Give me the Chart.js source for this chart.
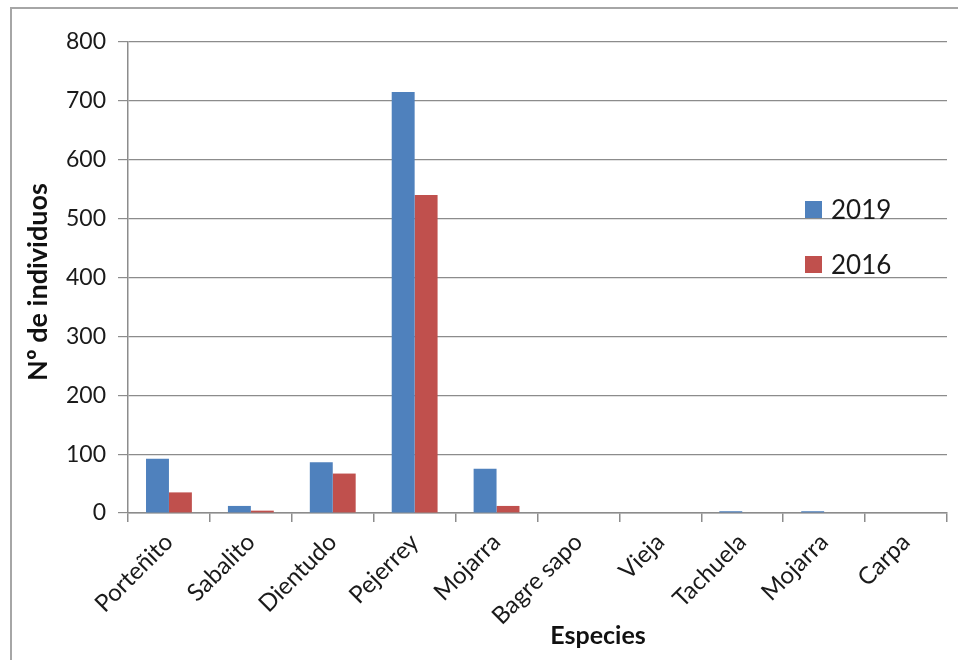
<!DOCTYPE html>
<html>
<head>
<meta charset="utf-8">
<script src="https://cdn.jsdelivr.net/npm/chart.js@4.4.0/dist/chart.umd.min.js"></script>
<style>
  html, body { margin: 0; padding: 0; background: #fff; overflow: hidden; }
  #wrap { position: relative; width: 958px; height: 660px; overflow: hidden; }
  #frame { position: absolute; left: 10px; top: 7px; width: 2000px; height: 2000px;
           border: 2px solid #a6a6a6; box-sizing: border-box; }
  canvas { position: absolute; left: 0; top: 0; }
</style>
</head>
<body>
<div id="wrap">
  <div id="frame"></div>
  <canvas id="c" width="958" height="660"></canvas>
</div>
<script>
// Species sampled and number of individuals per survey year
const especies = ['Porteñito', 'Sabalito', 'Dientudo', 'Pejerrey', 'Mojarra',
                  'Bagre sapo', 'Vieja', 'Tachuela', 'Mojarra', 'Carpa'];
const individuos2019 = [92, 12, 86, 715, 75, 0, 0, 3, 3, 0];
const individuos2016 = [35, 4, 67, 540, 12, 0, 0, 0, 0, 0];
const yTicks = [0, 100, 200, 300, 400, 500, 600, 700, 800];

const FONT = 'Lato, "Open Sans", sans-serif';
const AXIS_GRAY = '#8c8c8c';

// Legend and axis titles drawn over the chart
const overlay = {
  id: 'overlay',
  afterDraw(chart) {
    const ctx = chart.ctx;
    ctx.save();
    // legend
    chart.data.datasets.forEach((ds, i) => {
      const y = 210 + i * 55;
      ctx.fillStyle = ds.backgroundColor;
      ctx.fillRect(805, y - 9, 17, 17);
      ctx.fillStyle = '#1a1a1a';
      ctx.font = '26px ' + FONT;
      ctx.textAlign = 'left';
      ctx.textBaseline = 'middle';
      ctx.fillText(ds.label, 831, y + 1);
    });
    // axis titles
    ctx.fillStyle = '#111';
    ctx.textAlign = 'center';
    ctx.textBaseline = 'middle';
    ctx.font = 'bold 25px ' + FONT;
    ctx.fillText('Especies', 598, 636);
    ctx.font = 'bold 27px ' + FONT;
    ctx.translate(38, 282);
    ctx.rotate(-Math.PI / 2);
    ctx.fillText('Nº de individuos', 0, 0);
    ctx.restore();
  }
};

new Chart(document.getElementById('c'), {
  type: 'bar',
  data: {
    labels: especies,
    datasets: [
      { label: '2019', data: individuos2019, backgroundColor: '#4f81bd' },
      { label: '2016', data: individuos2016, backgroundColor: '#c0504d' }
    ]
  },
  options: {
    responsive: false,
    animation: false,
    devicePixelRatio: 1,
    layout: { padding: { top: 42, right: 11, left: 0, bottom: 0 } },
    datasets: { bar: { barPercentage: 1, categoryPercentage: 0.56 } },
    plugins: { legend: { display: false }, tooltip: { enabled: false } },
    scales: {
      x: {
        afterFit(s) { s.height = 147; },
        grid: { drawOnChartArea: false, drawTicks: true, tickLength: 9, color: AXIS_GRAY, lineWidth: 1.5 },
        border: { color: AXIS_GRAY, width: 1.5 },
        ticks: { color: '#1a1a1a', font: { family: FONT, size: 24 }, minRotation: 45, maxRotation: 45, padding: 6 }
      },
      y: {
        min: 0, max: 800,
        afterFit(s) { s.width = 128; },
        afterBuildTicks(s) { s.ticks = yTicks.map(v => ({ value: v })); },
        grid: { color: AXIS_GRAY, lineWidth: 1.2, tickLength: 10 },
        border: { color: AXIS_GRAY, width: 1.5 },
        ticks: { color: '#1a1a1a', font: { family: FONT, size: 23 }, padding: 12 }
      }
    }
  },
  plugins: [overlay]
});
</script>
</body>
</html>
